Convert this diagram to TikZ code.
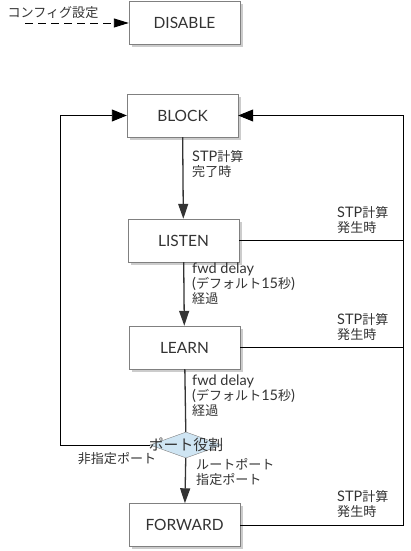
\documentclass[tikz,border=0pt]{standalone}
\usepackage{fontspec}
\setmainfont{Lato}
\newfontfamily\jp{Noto Sans CJK JP}[Scale=0.9]
\usetikzlibrary{arrows.meta,shapes.geometric,shadows}
\definecolor{ink}{HTML}{333333}
\definecolor{rim}{HTML}{808080}
\definecolor{rolefill}{HTML}{CFE5F3}
\tikzset{
  state/.style={draw=rim, fill=white, minimum width=111pt, minimum height=43pt, inner sep=0pt,
    font=\fontsize{15.5}{18}\selectfont, text=ink,
    drop shadow={shadow xshift=3pt, shadow yshift=-3pt, fill=black!20, opacity=1}},
  note/.style={align=left, inner sep=0pt, font=\fontsize{14.5}{15}\selectfont, text=ink},
  flow/.style={draw=ink, line width=1.3pt, -{Triangle[length=15pt,width=10pt]}},
  wire/.style={draw=black, line width=0.9pt},
}
\begin{document}
\begin{tikzpicture}[x=1pt,y=1pt]
\useasboundingbox (0,0) rectangle (411,551);
\node (disable) [state] at (184.5,528) {DISABLE};
\node (block) [state] at (182.5,435.5) {BLOCK};
\node (listen) [state] at (183.5,310.5) {LISTEN};
\node (learn) [state] at (184.5,203.5) {LEARN};
\node (forward) [state] at (184.5,26) {FORWARD};
\node (role) [diamond, draw=rim, fill=rolefill, minimum width=72pt, minimum height=26pt, inner sep=0pt,
  label={[text=ink, font=\jp\fontsize{16.5}{18}\selectfont]center:ポート役割}] at (186,106) {};

\coordinate (cfgstart) at (25,528);
\coordinate (leftturn) at (60,106);
\coordinate (rightturn) at (403,26);

\node (cfglabel) [note] at (53,538) {\jp コンフィグ設定};
\draw [wire, dash pattern=on 8pt off 5pt, -{Triangle[length=15pt,width=9pt]}] (cfgstart) -- (disable);

\draw [flow] (block) -- (listen);
\draw [flow] (listen) -- (learn);
\draw [flow, -] (learn) -- (role);
\draw [flow] (role) -- (forward);

\draw [wire, -{Triangle[length=15pt,width=12pt]}] (role.west) -- (leftturn) |- (block.west);
\draw [wire, -{Triangle[length=15pt,width=12pt]}] (forward.east) -- (rightturn) |- (block.east);
\draw [wire] (listen.east) -- (listen.east -| rightturn);
\draw [wire] (learn.east) -- (learn.east -| rightturn);

\node (done) [note, anchor=north west] at (192,401) {STP{\jp 計算}\\{\jp 完了時}};
\node (delay1) [note, anchor=north west] at (192,288) {fwd delay\\({\jp デフォルト}15{\jp 秒})\\{\jp 経過}};
\node (delay2) [note, anchor=north west] at (192,176) {fwd delay\\({\jp デフォルト}15{\jp 秒})\\{\jp 経過}};
\node (rootport) [note, anchor=north west] at (196,93) {\jp ルートポート\\\jp 指定ポート};
\node (nondesig) [note] at (117,92) {\jp 非指定ポート};
\node (stp1) [note, anchor=south west] at (337,317) {STP{\jp 計算}\\{\jp 発生時}};
\node (stp2) [note, anchor=south west] at (337,210) {STP{\jp 計算}\\{\jp 発生時}};
\node (stp3) [note, anchor=south west] at (337,33) {STP{\jp 計算}\\{\jp 発生時}};
\end{tikzpicture}
\end{document}
